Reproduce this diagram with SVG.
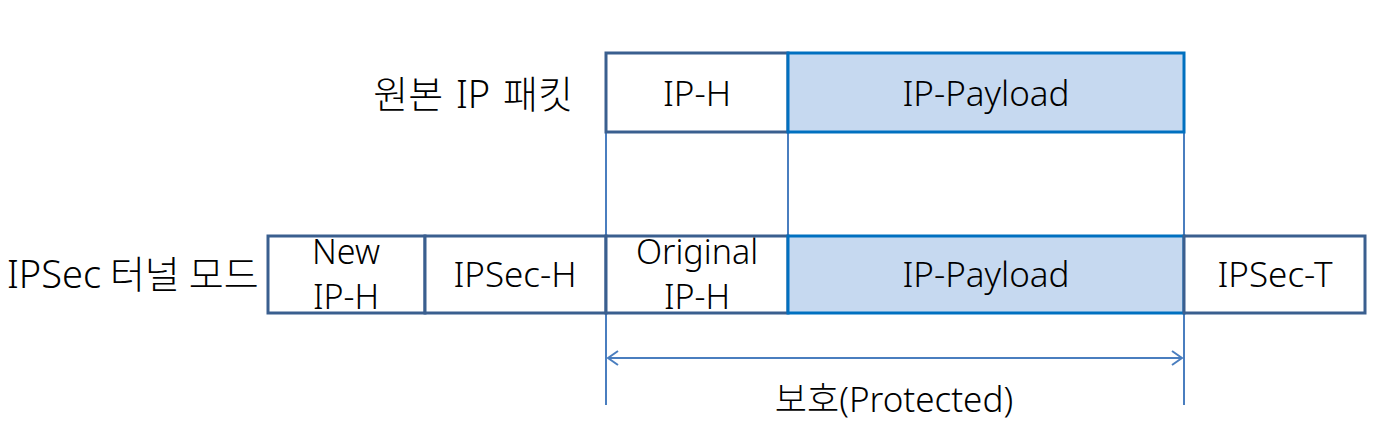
<svg xmlns="http://www.w3.org/2000/svg" width="1390" height="437" viewBox="0 0 1390 437">
<defs>
<style>
text{font-family:"Noto Sans","Noto Sans CJK KR",sans-serif;font-size:35px;font-weight:300;fill:#000;text-anchor:middle}
.two{font-size:34px}
.kr{font-size:38px;word-spacing:3px}
.hdr{fill:#fff;stroke:#3A5F8F;stroke-width:3}
.pay{fill:#C6D9F0;stroke:#0070C0;stroke-width:3}
.guide{stroke:#4A7EBF;stroke-width:2;fill:none}
</style>
<marker id="ah" viewBox="0 0 12 16" refX="11" refY="8" markerWidth="12" markerHeight="16" markerUnits="userSpaceOnUse" orient="auto-start-reverse">
<path d="M1,1 L11,8 L1,15" fill="none" stroke="#4A7EBF" stroke-width="2"/>
</marker>
</defs>
<rect width="1390" height="437" fill="#fff"/>
<g id="connectors">
<line class="guide" x1="606" y1="132" x2="606" y2="405"/>
<line class="guide" x1="788" y1="132" x2="788" y2="235"/>
<line class="guide" x1="1184" y1="132" x2="1184" y2="405"/>
<line class="guide" x1="608" y1="358" x2="1182" y2="358" marker-start="url(#ah)" marker-end="url(#ah)"/>
</g>
<g id="label-original"><text class="kr" x="573" y="108" style="text-anchor:end">원본 IP 패킷</text></g>
<g id="label-tunnel"><text class="kr" x="7" y="288" style="text-anchor:start;word-spacing:-1px">IPSec 터널 모드</text></g>
<g id="orig-iph"><rect class="hdr" x="606" y="53" width="182" height="79"/><text x="697" y="106">IP-H</text></g>
<g id="orig-payload"><rect class="pay" x="788" y="53" width="396" height="79"/><text x="986" y="106">IP-Payload</text></g>
<g id="new-iph"><rect class="hdr" x="268" y="236" width="157" height="77"/><text class="two" x="346" y="264">New</text><text class="two" x="346" y="309">IP-H</text></g>
<g id="ipsec-h"><rect class="hdr" x="425" y="236" width="181" height="77"/><text x="515" y="287">IPSec-H</text></g>
<g id="original-iph"><rect class="hdr" x="606" y="236" width="182" height="77"/><text class="two" x="697" y="264">Original</text><text class="two" x="697" y="309">IP-H</text></g>
<g id="tun-payload"><rect class="pay" x="788" y="236" width="396" height="77"/><text x="986" y="287">IP-Payload</text></g>
<g id="ipsec-t"><rect class="hdr" x="1184" y="236" width="181" height="77"/><text x="1275" y="287">IPSec-T</text></g>
<g id="label-protected"><text x="894" y="412">보호(Protected)</text></g>
</svg>
